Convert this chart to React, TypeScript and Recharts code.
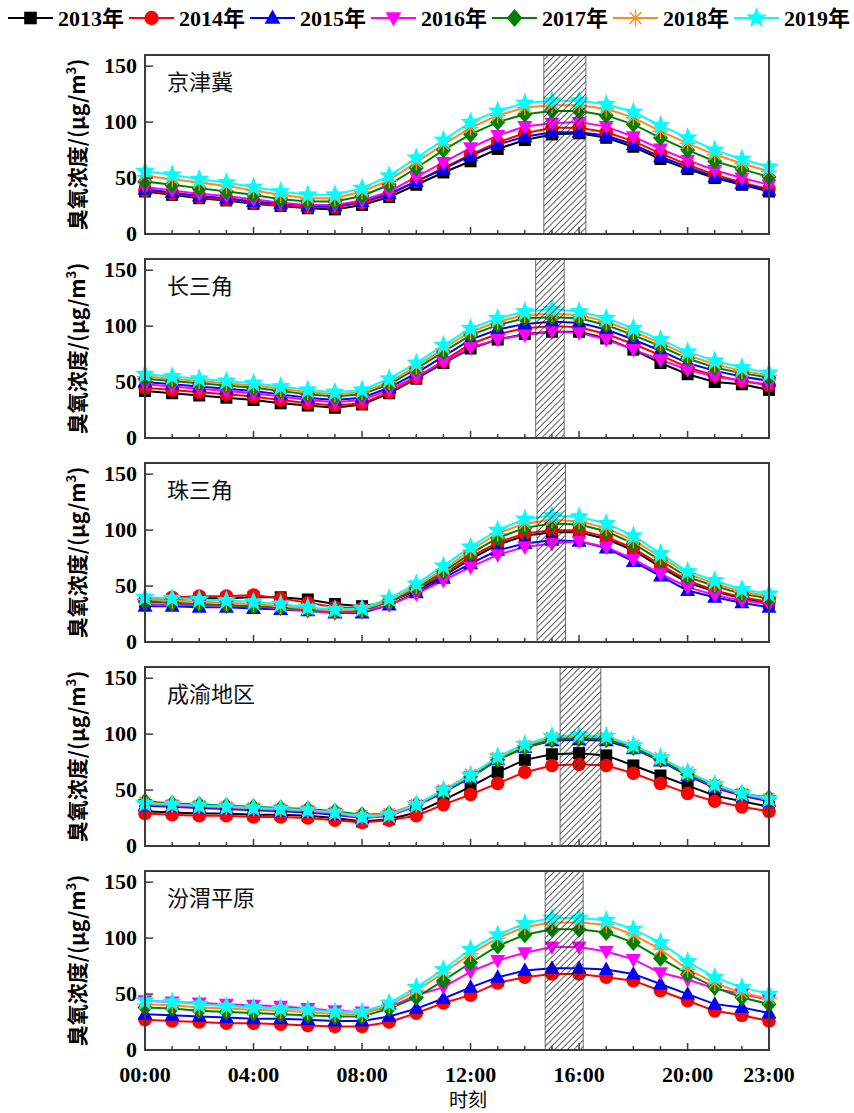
import React from 'react';
import { LineChart, Line, XAxis, YAxis, ReferenceArea } from 'recharts';

// ---- categories / ticks ----
const HOURS = [0, 1, 2, 3, 4, 5, 6, 7, 8, 9, 10, 11, 12, 13, 14, 15, 16, 17, 18, 19, 20, 21, 22, 23];
const MAJOR_HOURS = [0, 4, 8, 12, 16, 20];
const HOUR_LABELS: Record<number, string> = { 0: '00:00', 4: '04:00', 8: '08:00', 12: '12:00', 16: '16:00', 20: '20:00', 23: '23:00' };
const Y_TICKS = [0, 50, 100, 150];
const YEARS = ['2013年', '2014年', '2015年', '2016年', '2017年', '2018年', '2019年'];
const COLORS = ['#000000', '#ff0000', '#0000ff', '#ff00ff', '#008000', '#ff8c1a', '#00ffff'];
const SHAPES = ['square', 'circle', 'triUp', 'triDown', 'diamond', 'asterisk', 'star'];

// ---- 京津冀 ----
const JJJ_2013 = [38, 35, 32, 30, 27, 25, 23, 22, 26, 33, 44, 55, 65, 76, 84, 89, 90, 86, 78, 67, 58, 50, 44, 38];
const JJJ_2014 = [39, 36, 33, 31, 28, 26, 24, 24, 28, 35, 47, 59, 71, 82, 90, 95, 95, 91, 83, 72, 62, 53, 46, 40];
const JJJ_2015 = [40, 37, 34, 32, 29, 27, 25, 25, 29, 36, 47, 58, 70, 80, 87, 91, 91, 88, 80, 69, 60, 51, 45, 39];
const JJJ_2016 = [42, 39, 36, 34, 31, 28, 26, 26, 30, 38, 51, 64, 77, 88, 96, 99, 100, 96, 87, 76, 66, 57, 50, 44];
const JJJ_2017 = [47, 44, 41, 38, 35, 31, 29, 29, 34, 44, 59, 75, 89, 100, 107, 110, 110, 106, 98, 86, 75, 65, 58, 51];
const JJJ_2018 = [52, 49, 46, 43, 39, 35, 32, 32, 38, 48, 64, 80, 95, 106, 113, 115, 115, 112, 104, 92, 81, 71, 63, 56];
const JJJ_2019 = [56, 53, 49, 46, 42, 38, 35, 35, 41, 52, 68, 84, 100, 110, 117, 119, 119, 116, 109, 97, 86, 75, 67, 60];

// ---- 长三角 ----
const YRD_2013 = [42, 40, 38, 36, 34, 31, 29, 27, 30, 40, 53, 67, 80, 88, 93, 95, 95, 89, 79, 67, 57, 50, 48, 43];
const YRD_2014 = [45, 43, 41, 39, 37, 34, 31, 29, 31, 41, 54, 69, 84, 93, 98, 100, 99, 93, 84, 74, 63, 56, 51, 47];
const YRD_2015 = [50, 48, 46, 44, 42, 39, 36, 34, 36, 45, 58, 73, 88, 97, 102, 104, 103, 97, 88, 78, 67, 60, 55, 51];
const YRD_2016 = [48, 46, 44, 42, 40, 37, 34, 32, 34, 43, 55, 68, 81, 88, 92, 95, 94, 88, 79, 70, 61, 55, 51, 48];
const YRD_2017 = [53, 51, 49, 47, 45, 42, 39, 37, 39, 48, 62, 77, 92, 101, 107, 108, 107, 101, 92, 82, 71, 63, 58, 54];
const YRD_2018 = [55, 53, 51, 49, 47, 44, 41, 39, 41, 50, 64, 80, 95, 104, 110, 111, 110, 104, 95, 85, 74, 66, 60, 56];
const YRD_2019 = [57, 55, 53, 51, 49, 46, 43, 41, 43, 53, 67, 83, 98, 107, 113, 115, 113, 107, 98, 88, 77, 69, 63, 58];

// ---- 珠三角 ----
const PRD_2013 = [36, 38, 39, 39, 40, 40, 38, 34, 32, 36, 46, 59, 74, 87, 95, 98, 98, 92, 82, 67, 53, 45, 39, 35];
const PRD_2014 = [37, 40, 41, 41, 42, 39, 35, 31, 30, 36, 47, 61, 76, 89, 97, 100, 100, 94, 84, 69, 55, 46, 40, 36];
const PRD_2015 = [32, 32, 31, 31, 30, 29, 28, 26, 26, 33, 44, 57, 70, 82, 88, 91, 90, 84, 72, 59, 46, 40, 35, 31];
const PRD_2016 = [34, 33, 33, 32, 32, 30, 28, 26, 27, 33, 43, 55, 67, 78, 85, 88, 90, 85, 74, 61, 49, 42, 37, 34];
const PRD_2017 = [36, 35, 34, 33, 32, 31, 29, 27, 28, 36, 48, 63, 79, 93, 102, 106, 105, 99, 88, 73, 58, 50, 43, 39];
const PRD_2018 = [38, 37, 36, 35, 34, 32, 30, 28, 29, 37, 50, 65, 82, 97, 106, 109, 108, 102, 91, 76, 61, 52, 45, 41];
const PRD_2019 = [40, 39, 38, 37, 36, 34, 31, 29, 30, 39, 52, 68, 85, 100, 110, 113, 112, 106, 95, 79, 63, 55, 47, 43];

// ---- 成渝地区 ----
const CY_2013 = [31, 30, 29, 29, 28, 28, 27, 25, 22, 24, 30, 41, 53, 66, 77, 82, 83, 81, 72, 63, 54, 45, 40, 35];
const CY_2014 = [29, 28, 27, 27, 26, 26, 25, 23, 21, 23, 27, 37, 46, 56, 66, 72, 73, 72, 65, 56, 47, 40, 35, 31];
const CY_2015 = [36, 35, 34, 33, 32, 31, 30, 28, 25, 27, 36, 48, 61, 77, 88, 94, 95, 94, 87, 76, 63, 52, 45, 40];
const CY_2016 = [37, 36, 35, 34, 33, 32, 31, 29, 25, 27, 36, 49, 62, 78, 89, 95, 97, 96, 88, 77, 64, 53, 46, 41];
const CY_2017 = [40, 38, 37, 36, 35, 34, 33, 31, 28, 29, 37, 49, 62, 77, 88, 95, 96, 95, 88, 77, 64, 54, 47, 43];
const CY_2018 = [39, 37, 36, 35, 34, 33, 32, 30, 27, 29, 37, 50, 64, 79, 90, 97, 98, 97, 90, 79, 66, 55, 47, 42];
const CY_2019 = [38, 37, 36, 35, 34, 33, 32, 30, 26, 28, 37, 50, 63, 80, 91, 98, 99, 98, 90, 79, 66, 55, 47, 42];

// ---- 汾渭平原 (no 2013 series visible) ----
const FW_2014 = [27, 26, 25, 24, 24, 23, 22, 21, 21, 25, 33, 42, 49, 60, 65, 68, 68, 65, 62, 53, 44, 35, 31, 26];
const FW_2015 = [32, 31, 30, 29, 28, 28, 27, 26, 26, 30, 37, 46, 56, 65, 71, 73, 73, 72, 68, 59, 50, 41, 38, 33];
const FW_2016 = [44, 43, 42, 41, 40, 39, 37, 35, 34, 38, 49, 56, 70, 80, 87, 92, 92, 88, 81, 69, 63, 55, 50, 45];
const FW_2017 = [38, 37, 35, 34, 33, 32, 31, 30, 30, 37, 47, 62, 78, 93, 103, 108, 108, 105, 96, 82, 68, 56, 47, 41];
const FW_2018 = [41, 40, 38, 37, 36, 35, 34, 32, 32, 40, 53, 69, 86, 100, 110, 114, 114, 112, 103, 90, 72, 60, 51, 46];
const FW_2019 = [44, 43, 41, 39, 38, 37, 36, 34, 34, 42, 56, 72, 90, 103, 113, 118, 118, 116, 108, 96, 79, 65, 56, 50];

// ---- shaded (hatched) windows, in hours ----
const HATCH_JJJ = [14.7, 16.25];
const HATCH_YRD = [14.4, 15.45];
const HATCH_PRD = [14.45, 15.5];
const HATCH_CY = [15.3, 16.8];
const HATCH_FW = [14.75, 16.15];

const REGIONS = [
  { title: '京津冀', series: [JJJ_2013, JJJ_2014, JJJ_2015, JJJ_2016, JJJ_2017, JJJ_2018, JJJ_2019], hatch: HATCH_JJJ },
  { title: '长三角', series: [YRD_2013, YRD_2014, YRD_2015, YRD_2016, YRD_2017, YRD_2018, YRD_2019], hatch: HATCH_YRD },
  { title: '珠三角', series: [PRD_2013, PRD_2014, PRD_2015, PRD_2016, PRD_2017, PRD_2018, PRD_2019], hatch: HATCH_PRD },
  { title: '成渝地区', series: [CY_2013, CY_2014, CY_2015, CY_2016, CY_2017, CY_2018, CY_2019], hatch: HATCH_CY },
  { title: '汾渭平原', series: [null, FW_2014, FW_2015, FW_2016, FW_2017, FW_2018, FW_2019], hatch: HATCH_FW },
];

// ---- layout ----
const PANEL_TOPS = [55, 259, 463, 667, 871];
const PLOT_H = 179;
const PLOT_LEFT = 145;
const PLOT_RIGHT_MARGIN = 85;
const FRAME = '#3c3c3c';
const SERIF = '"Liberation Serif", "Times New Roman", serif';
const CJK = '"Noto Sans CJK SC", sans-serif';

function Marker({ shape, color, cx, cy, s = 1 }: any) {
  if (cx == null || cy == null || isNaN(cx) || isNaN(cy)) return null;
  switch (shape) {
    case 'square':
      return <rect x={cx - 6 * s} y={cy - 6 * s} width={12 * s} height={12 * s} fill={color} />;
    case 'circle':
      return <circle cx={cx} cy={cy} r={6.8 * s} fill={color} />;
    case 'triUp':
      return <polygon points={`${cx},${cy - 8 * s} ${cx + 7.5 * s},${cy + 5.5 * s} ${cx - 7.5 * s},${cy + 5.5 * s}`} fill={color} />;
    case 'triDown':
      return <polygon points={`${cx},${cy + 8 * s} ${cx + 7.5 * s},${cy - 5.5 * s} ${cx - 7.5 * s},${cy - 5.5 * s}`} fill={color} />;
    case 'diamond':
      return <polygon points={`${cx},${cy - 8.5 * s} ${cx + 7.5 * s},${cy} ${cx},${cy + 8.5 * s} ${cx - 7.5 * s},${cy}`} fill={color} />;
    case 'asterisk': {
      const r = 8 * s;
      const d = r * 0.7071;
      return (
        <g stroke={color} strokeWidth={1.4}>
          <line x1={cx - r} y1={cy} x2={cx + r} y2={cy} />
          <line x1={cx} y1={cy - r} x2={cx} y2={cy + r} />
          <line x1={cx - d} y1={cy - d} x2={cx + d} y2={cy + d} />
          <line x1={cx - d} y1={cy + d} x2={cx + d} y2={cy - d} />
        </g>
      );
    }
    case 'star': {
      const R = 10.5 * s;
      const r = 4.4 * s;
      const pts: string[] = [];
      for (let k = 0; k < 10; k++) {
        const a = -Math.PI / 2 + (k * Math.PI) / 5;
        const rr = k % 2 === 0 ? R : r;
        pts.push(`${cx + rr * Math.cos(a)},${cy + rr * Math.sin(a)}`);
      }
      return <polygon points={pts.join(' ')} fill={color} />;
    }
    default:
      return null;
  }
}

const makeDot = (shape: string, color: string) => (props: any) => (
  <g key={`dot-${shape}-${props.index}`}>
    <Marker shape={shape} color={color} cx={props.cx} cy={props.cy} />
  </g>
);

function XTick(props: any) {
  const { x, y, payload, showLabel } = props;
  const v = payload.value;
  const major = MAJOR_HOURS.includes(v);
  const len = major ? 7 : 4;
  return (
    <g>
      {v !== 0 && v !== 23 && <line x1={x} y1={y} x2={x} y2={y - len} stroke={FRAME} strokeWidth={1.5} />}
      {showLabel && HOUR_LABELS[v] && (
        <text x={x} y={y + 32} textAnchor="middle" fontFamily={SERIF} fontWeight="bold" fontSize={22} fill="#000">
          {HOUR_LABELS[v]}
        </text>
      )}
    </g>
  );
}

function YTick(props: any) {
  const { x, y, payload } = props;
  return (
    <g>
      {payload.value !== 0 && <line x1={x} y1={y} x2={x + 8} y2={y} stroke={FRAME} strokeWidth={1.5} />}
      <text x={x - 8} y={y + 7} textAnchor="end" fontFamily={SERIF} fontWeight="bold" fontSize={22} fill="#000">
        {payload.value}
      </text>
    </g>
  );
}

function Panel({ region, top, isBottom }: any) {
  const mTop = 12;
  const mBottom = isBottom ? 40 : 18;
  const data = HOURS.map((h, i) => {
    const row: any = { h };
    region.series.forEach((s: number[] | null, k: number) => {
      row[`y${k}`] = s ? s[i] : null;
    });
    return row;
  });
  return (
    <div style={{ position: 'absolute', left: 0, top: top - mTop }}>
      <LineChart
        width={854}
        height={mTop + PLOT_H + mBottom}
        data={data}
        margin={{ top: mTop, right: PLOT_RIGHT_MARGIN, left: 0, bottom: mBottom - 1 }}
      >
        <XAxis
          dataKey="h"
          type="number"
          domain={[0, 23]}
          ticks={HOURS}
          interval={0}
          height={1}
          tickSize={0}
          tickMargin={0}
          tickLine={false}
          axisLine={false}
          tick={<XTick showLabel={isBottom} />}
        />
        <YAxis
          type="number"
          domain={[0, 160]}
          ticks={Y_TICKS}
          interval={0}
          width={PLOT_LEFT}
          tickSize={0}
          tickMargin={0}
          tickLine={false}
          axisLine={false}
          tick={<YTick />}
        />
        {region.series.map((s: number[] | null, k: number) =>
          s ? (
            <Line
              key={YEARS[k]}
              dataKey={`y${k}`}
              type="linear"
              stroke={COLORS[k]}
              strokeWidth={2}
              dot={makeDot(SHAPES[k], COLORS[k])}
              activeDot={false}
              isAnimationActive={false}
            />
          ) : null
        )}
        <ReferenceArea
          x1={region.hatch[0]}
          x2={region.hatch[1]}
          y1={0}
          y2={160}
          fill="url(#hatch)"
          fillOpacity={1}
          stroke="#444"
          strokeWidth={0.8}
          zIndex={1000}
        />
        <ReferenceArea
          x1={0}
          x2={23}
          y1={0}
          y2={160}
          fill="none"
          fillOpacity={0}
          stroke={FRAME}
          strokeWidth={2}
          zIndex={1001}
        />
      </LineChart>
      <svg
        width={300}
        height={60}
        style={{ position: 'absolute', left: 0, top: 0, pointerEvents: 'none' }}
      >
        <text x={167} y={mTop + 35} fontFamily={CJK} fontSize={22} fill="#111">
          {region.title}
        </text>
      </svg>
    </div>
  );
}

function YLabel({ top }: any) {
  const cy = top + PLOT_H / 2;
  return (
    <svg width={110} height={PLOT_H + 20} style={{ position: 'absolute', left: 0, top: top - 10 }}>
      <text
        transform={`translate(85, ${cy - top + 10}) rotate(-90)`}
        textAnchor="middle"
        fontFamily={`"Noto Sans CJK SC", ${SERIF}`}
        fontWeight="bold"
        fontSize={21}
        fill="#000"
      >
        臭氧浓度/(μg/m<tspan fontSize={13} dy={-9}>3</tspan><tspan dy={9}>)</tspan>
      </text>
    </svg>
  );
}

function Legend() {
  return (
    <svg width={854} height={40} style={{ position: 'absolute', left: 0, top: 0 }}>
      {YEARS.map((y, i) => {
        const x0 = 8 + i * 121;
        return (
          <g key={y}>
            <line x1={x0} y1={18} x2={x0 + 45} y2={18} stroke={COLORS[i]} strokeWidth={2} />
            <Marker shape={SHAPES[i]} color={COLORS[i]} cx={x0 + 22.5} cy={18} s={1.05} />
            <text x={x0 + 50} y={26} fontFamily={`${SERIF}, "Noto Sans CJK SC"`} fontWeight="bold" fontSize={22} fill="#000">
              {y}
            </text>
          </g>
        );
      })}
    </svg>
  );
}

export default function App() {
  return (
    <div style={{ position: 'absolute', left: 0, top: 0, width: 854, height: 1113, background: '#fff' }}>
      <svg width={0} height={0} style={{ position: 'absolute' }}>
        <defs>
          <pattern id="hatch" patternUnits="userSpaceOnUse" width={4.5} height={4.5} patternTransform="rotate(45)">
            <line x1={0} y1={-1} x2={0} y2={6} stroke="#1a1a1a" strokeWidth={1.4} />
          </pattern>
        </defs>
      </svg>
      <Legend />
      {REGIONS.map((r, i) => (
        <Panel key={r.title} region={r} top={PANEL_TOPS[i]} isBottom={i === REGIONS.length - 1} />
      ))}
      {PANEL_TOPS.map((t) => (
        <YLabel key={t} top={t} />
      ))}
      <svg width={854} height={29} style={{ position: 'absolute', left: 0, top: 1084 }}>
        <text x={468} y={23} textAnchor="middle" fontFamily={CJK} fontSize={19} fill="#000">
          时刻
        </text>
      </svg>
    </div>
  );
}
